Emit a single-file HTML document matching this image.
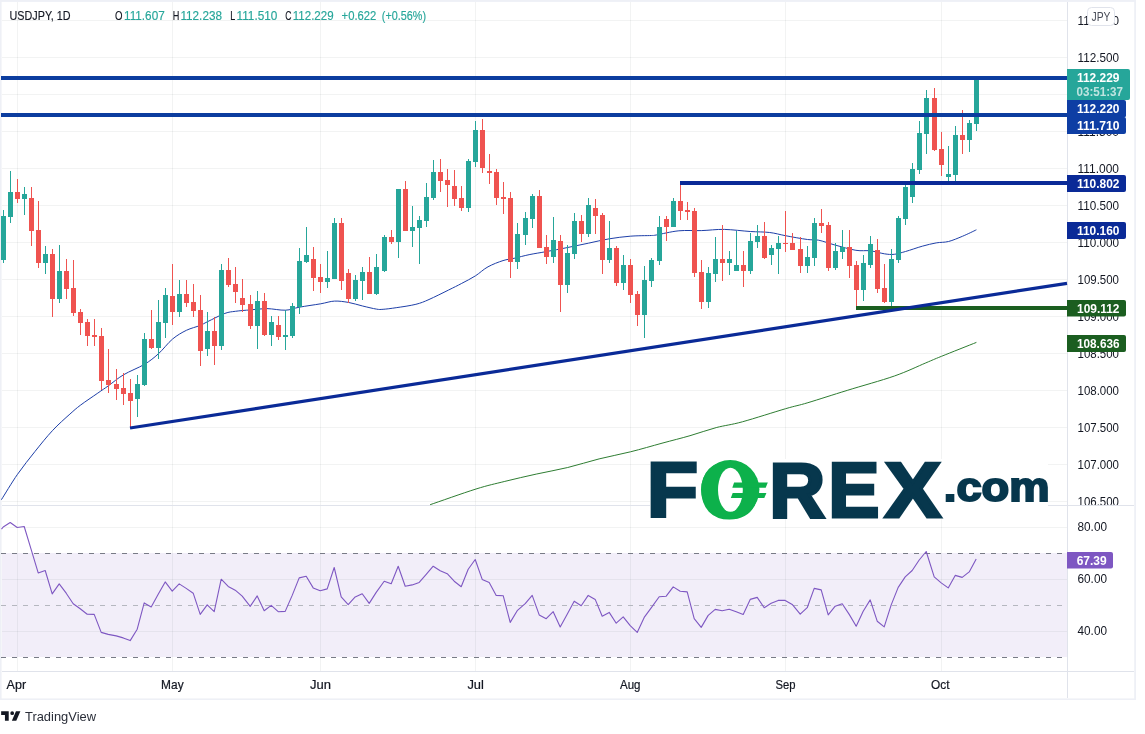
<!DOCTYPE html><html><head><meta charset="utf-8"><title>USDJPY 1D</title>
<style>html,body{margin:0;padding:0;background:#fff}svg{display:block}text{font-family:"Liberation Sans",sans-serif}</style></head><body>
<svg width="1145" height="734" viewBox="0 0 1145 734">
<rect x="0" y="0" width="1145" height="734" fill="#fff"/>
<rect x="0" y="0" width="1136" height="700" fill="#eef0f6"/>
<rect x="1.6" y="1.9" width="1132.6" height="696.5" fill="#fff"/>
<g shape-rendering="crispEdges">
<rect x="2" y="553" width="1065" height="104" fill="#f2eef9"/>
<line x1="2" x2="1067" y1="20.5" y2="20.5" stroke="rgb(42,46,57)" stroke-opacity="0.06" stroke-width="1"/>
<line x1="2" x2="1067" y1="57.5" y2="57.5" stroke="rgb(42,46,57)" stroke-opacity="0.06" stroke-width="1"/>
<line x1="2" x2="1067" y1="94.5" y2="94.5" stroke="rgb(42,46,57)" stroke-opacity="0.06" stroke-width="1"/>
<line x1="2" x2="1067" y1="131.5" y2="131.5" stroke="rgb(42,46,57)" stroke-opacity="0.06" stroke-width="1"/>
<line x1="2" x2="1067" y1="168.5" y2="168.5" stroke="rgb(42,46,57)" stroke-opacity="0.06" stroke-width="1"/>
<line x1="2" x2="1067" y1="205.5" y2="205.5" stroke="rgb(42,46,57)" stroke-opacity="0.06" stroke-width="1"/>
<line x1="2" x2="1067" y1="242.5" y2="242.5" stroke="rgb(42,46,57)" stroke-opacity="0.06" stroke-width="1"/>
<line x1="2" x2="1067" y1="279.5" y2="279.5" stroke="rgb(42,46,57)" stroke-opacity="0.06" stroke-width="1"/>
<line x1="2" x2="1067" y1="316.5" y2="316.5" stroke="rgb(42,46,57)" stroke-opacity="0.06" stroke-width="1"/>
<line x1="2" x2="1067" y1="353.5" y2="353.5" stroke="rgb(42,46,57)" stroke-opacity="0.06" stroke-width="1"/>
<line x1="2" x2="1067" y1="390.5" y2="390.5" stroke="rgb(42,46,57)" stroke-opacity="0.06" stroke-width="1"/>
<line x1="2" x2="1067" y1="427.5" y2="427.5" stroke="rgb(42,46,57)" stroke-opacity="0.06" stroke-width="1"/>
<line x1="2" x2="1067" y1="464.5" y2="464.5" stroke="rgb(42,46,57)" stroke-opacity="0.06" stroke-width="1"/>
<line x1="2" x2="1067" y1="501.5" y2="501.5" stroke="rgb(42,46,57)" stroke-opacity="0.06" stroke-width="1"/>
<line x1="2" x2="1067" y1="527.5" y2="527.5" stroke="rgb(42,46,57)" stroke-opacity="0.06" stroke-width="1"/>
<line x1="2" x2="1067" y1="579.5" y2="579.5" stroke="rgb(42,46,57)" stroke-opacity="0.06" stroke-width="1"/>
<line x1="2" x2="1067" y1="631.5" y2="631.5" stroke="rgb(42,46,57)" stroke-opacity="0.06" stroke-width="1"/>
<line x1="17.5" x2="17.5" y1="2" y2="553" stroke="rgb(42,46,57)" stroke-opacity="0.06" stroke-width="1"/>
<line x1="17.5" x2="17.5" y1="553" y2="657" stroke="rgb(42,46,57)" stroke-opacity="0.06" stroke-width="1"/>
<line x1="17.5" x2="17.5" y1="657" y2="671" stroke="rgb(42,46,57)" stroke-opacity="0.06" stroke-width="1"/>
<line x1="172.5" x2="172.5" y1="2" y2="553" stroke="rgb(42,46,57)" stroke-opacity="0.06" stroke-width="1"/>
<line x1="172.5" x2="172.5" y1="553" y2="657" stroke="rgb(42,46,57)" stroke-opacity="0.06" stroke-width="1"/>
<line x1="172.5" x2="172.5" y1="657" y2="671" stroke="rgb(42,46,57)" stroke-opacity="0.06" stroke-width="1"/>
<line x1="320.5" x2="320.5" y1="2" y2="553" stroke="rgb(42,46,57)" stroke-opacity="0.06" stroke-width="1"/>
<line x1="320.5" x2="320.5" y1="553" y2="657" stroke="rgb(42,46,57)" stroke-opacity="0.06" stroke-width="1"/>
<line x1="320.5" x2="320.5" y1="657" y2="671" stroke="rgb(42,46,57)" stroke-opacity="0.06" stroke-width="1"/>
<line x1="475.5" x2="475.5" y1="2" y2="553" stroke="rgb(42,46,57)" stroke-opacity="0.06" stroke-width="1"/>
<line x1="475.5" x2="475.5" y1="553" y2="657" stroke="rgb(42,46,57)" stroke-opacity="0.06" stroke-width="1"/>
<line x1="475.5" x2="475.5" y1="657" y2="671" stroke="rgb(42,46,57)" stroke-opacity="0.06" stroke-width="1"/>
<line x1="630.5" x2="630.5" y1="2" y2="553" stroke="rgb(42,46,57)" stroke-opacity="0.06" stroke-width="1"/>
<line x1="630.5" x2="630.5" y1="553" y2="657" stroke="rgb(42,46,57)" stroke-opacity="0.06" stroke-width="1"/>
<line x1="630.5" x2="630.5" y1="657" y2="671" stroke="rgb(42,46,57)" stroke-opacity="0.06" stroke-width="1"/>
<line x1="785.5" x2="785.5" y1="2" y2="553" stroke="rgb(42,46,57)" stroke-opacity="0.06" stroke-width="1"/>
<line x1="785.5" x2="785.5" y1="553" y2="657" stroke="rgb(42,46,57)" stroke-opacity="0.06" stroke-width="1"/>
<line x1="785.5" x2="785.5" y1="657" y2="671" stroke="rgb(42,46,57)" stroke-opacity="0.06" stroke-width="1"/>
<line x1="941.5" x2="941.5" y1="2" y2="553" stroke="rgb(42,46,57)" stroke-opacity="0.06" stroke-width="1"/>
<line x1="941.5" x2="941.5" y1="553" y2="657" stroke="rgb(42,46,57)" stroke-opacity="0.06" stroke-width="1"/>
<line x1="941.5" x2="941.5" y1="657" y2="671" stroke="rgb(42,46,57)" stroke-opacity="0.06" stroke-width="1"/>
<line x1="2" x2="1134" y1="505.5" y2="505.5" stroke="#e0e3eb" stroke-width="1"/>
<line x1="2" x2="1134" y1="671.5" y2="671.5" stroke="#e0e3eb" stroke-width="1"/>
<line x1="1067.5" x2="1067.5" y1="2" y2="698" stroke="#e0e3eb" stroke-width="1"/>
</g>
<line x1="1" x2="1067" y1="553.5" y2="553.5" stroke="#787b86" stroke-width="1" stroke-dasharray="5 6" shape-rendering="crispEdges"/>
<line x1="1" x2="1067" y1="605.5" y2="605.5" stroke="#b5b7bf" stroke-width="1" stroke-dasharray="5 6" shape-rendering="crispEdges"/>
<line x1="1" x2="1067" y1="657.5" y2="657.5" stroke="#787b86" stroke-width="1" stroke-dasharray="5 6" shape-rendering="crispEdges"/>
<polyline points="1.5,529.2 3.2,527.0 10.2,522.5 17.2,527.5 24.2,526.5 31.2,549.7 38.2,572.9 45.2,570.5 52.2,593.9 59.2,583.9 66.2,593.2 73.2,603.7 80.2,608.7 87.2,614.2 94.2,614.4 101.2,632.4 108.2,634.4 116.2,635.9 123.2,637.9 130.2,640.6 137.2,629.2 144.2,602.9 151.2,606.9 158.2,594.2 165.2,581.9 172.2,591.2 179.2,583.9 186.2,588.4 193.2,593.2 200.2,614.4 207.2,604.9 214.2,611.7 221.2,579.2 228.2,586.4 235.2,590.2 242.2,596.2 250.2,606.4 257.2,595.9 264.2,610.7 271.2,605.4 278.2,611.7 285.2,611.4 292.2,595.4 299.2,577.9 306.2,576.2 313.2,587.9 320.2,590.7 327.2,588.9 334.2,567.5 341.2,596.9 348.2,604.7 355.2,596.9 362.2,593.7 369.2,603.4 376.2,592.4 384.2,581.2 391.2,583.7 398.2,566.2 405.2,586.2 412.2,584.9 419.2,582.4 426.2,574.4 433.2,566.2 440.2,570.7 447.2,573.7 454.2,581.2 461.2,586.7 468.2,569.2 475.2,559.5 482.2,579.4 489.2,582.4 496.2,595.4 503.2,595.7 510.2,622.4 517.2,610.7 525.2,603.7 532.2,595.4 539.2,614.9 546.2,618.7 553.2,611.7 560.2,626.9 567.2,614.2 574.2,601.2 581.2,605.7 588.2,595.4 595.2,599.4 602.2,616.2 609.2,612.4 616.2,623.2 623.2,616.9 630.2,625.7 637.2,632.4 644.2,617.4 651.2,607.9 659.2,596.7 666.2,596.2 673.2,586.9 680.2,591.2 687.2,591.9 694.2,618.7 701.2,627.4 708.2,615.4 715.2,609.4 722.2,610.7 729.2,609.2 736.2,611.7 743.2,614.4 750.2,599.4 757.2,597.4 764.2,607.7 771.2,603.2 778.2,600.4 785.2,600.4 792.2,604.4 800.2,614.2 807.2,607.7 814.2,588.4 821.2,589.9 828.2,614.9 835.2,606.2 842.2,603.7 849.2,614.4 856.2,626.2 863.2,611.2 870.2,599.9 877.2,621.2 884.2,626.9 891.2,604.9 898.2,587.4 905.2,576.9 912.2,570.5 919.2,560.0 926.2,551.5 934.2,576.9 941.2,582.9 948.2,587.9 955.2,575.4 962.2,577.4 969.2,571.9 976.2,559.0" fill="none" stroke="#7e57c2" stroke-width="1.1" stroke-linejoin="round"/>
<path d="M430.1 504.7C437.8 502.1 463.6 492.9 476.0 489.0C488.4 485.1 494.8 483.9 504.8 481.4C514.8 478.9 525.7 476.4 536.2 474.1C546.7 471.8 557.2 470.0 567.7 467.5C578.2 465.0 588.6 461.5 599.1 458.9C609.6 456.3 620.0 454.4 630.5 451.8C641.0 449.2 652.1 445.9 662.0 443.2C671.9 440.5 681.0 438.3 690.0 435.7C699.0 433.1 707.5 429.9 716.2 427.6C724.9 425.3 730.8 425.0 742.4 421.8C754.0 418.6 774.7 411.9 785.6 408.7C796.5 405.5 797.6 405.8 807.9 402.7C818.2 399.6 832.8 394.8 847.2 390.4C861.6 385.9 881.3 380.6 894.4 376.0C907.5 371.4 917.9 366.2 925.8 362.9C933.6 359.6 933.1 359.7 941.5 356.3C949.9 352.9 970.6 344.7 976.4 342.4" fill="none" stroke="#2e7d32" stroke-width="1"/>
<path d="M1.4 499.7C4.1 495.5 11.9 482.3 17.5 474.3C23.1 466.3 29.1 458.9 34.9 451.6C40.7 444.3 46.6 436.9 52.4 430.7C58.2 424.4 65.2 418.3 69.9 414.1C74.6 409.9 75.7 408.8 80.3 405.3C84.9 401.8 93.1 396.4 97.8 393.1C102.5 389.8 104.2 388.8 108.5 385.7C112.8 382.6 117.5 378.4 123.5 374.8C129.5 371.2 138.7 367.8 144.5 364.3C150.3 360.8 153.7 358.0 158.4 353.8C163.1 349.6 167.9 342.9 172.6 339.0C177.3 335.1 181.8 332.6 186.4 330.3C191.0 328.1 196.5 326.9 200.0 325.5C203.5 324.1 203.3 323.7 207.5 321.7C211.7 319.7 220.2 315.1 224.9 313.4C229.6 311.7 231.2 311.9 235.4 311.3C239.7 310.7 245.2 310.3 250.4 309.9C255.7 309.4 261.1 308.6 266.9 308.6C272.7 308.7 280.0 310.4 285.4 310.2C290.8 310.0 293.4 308.3 299.3 307.2C305.2 306.1 314.8 304.8 320.7 303.8C326.6 302.8 329.9 301.3 334.5 301.1C339.1 300.9 343.7 301.6 348.4 302.4C353.1 303.2 357.9 304.9 362.6 306.0C367.3 307.1 373.0 308.6 376.4 309.1C379.8 309.7 379.8 309.5 383.1 309.3C386.4 309.1 390.7 308.5 396.2 307.7C401.7 306.9 410.4 305.7 415.9 304.3C421.4 302.9 423.6 301.9 429.0 299.5C434.4 297.1 443.2 292.7 448.6 290.0C454.1 287.3 457.2 285.8 461.7 283.4C466.2 281.0 471.1 278.6 475.5 275.8C479.9 273.0 483.4 269.3 488.0 266.8C492.6 264.3 498.6 262.0 503.0 260.6C507.4 259.2 509.6 259.3 514.1 258.3C518.6 257.3 524.5 255.6 529.9 254.5C535.3 253.4 540.1 252.8 546.3 251.6C552.5 250.4 560.2 249.0 567.2 247.6C574.2 246.2 581.4 244.7 588.4 243.2C595.4 241.7 602.3 240.0 609.3 238.8C616.3 237.6 623.3 236.8 630.3 236.2C637.3 235.6 647.1 235.7 651.4 235.5C655.7 235.3 651.6 235.8 656.2 235.0C660.8 234.2 671.4 231.5 678.9 230.8C686.4 230.1 693.7 230.8 701.3 230.6C708.9 230.4 716.1 229.2 724.3 229.4C732.5 229.6 742.7 231.0 750.3 231.5C757.9 232.0 763.8 231.8 769.7 232.5C775.6 233.2 779.2 234.5 785.5 235.7C791.8 236.9 802.0 238.8 807.5 239.5C813.0 240.2 814.0 239.3 818.6 240.2C823.2 241.1 828.7 243.3 834.9 245.0C841.1 246.7 850.0 249.3 855.9 250.3C861.8 251.3 865.6 250.2 870.4 250.8C875.1 251.4 880.4 253.2 884.4 253.8C888.4 254.4 890.8 254.7 894.3 254.3C897.8 253.9 900.8 252.8 905.5 251.5C910.2 250.2 917.2 247.6 922.3 246.2C927.4 244.8 931.8 243.7 936.2 242.9C940.6 242.1 944.1 242.6 948.5 241.5C952.9 240.4 957.8 238.2 962.4 236.3C967.0 234.4 974.1 230.9 976.4 229.8" fill="none" stroke="#1e3fa8" stroke-width="1"/>
<g shape-rendering="crispEdges">
<rect x="3" y="210" width="1" height="53" fill="#26a69a"/>
<rect x="1" y="216" width="5" height="44" fill="#26a69a"/>
<rect x="10" y="171" width="1" height="52" fill="#26a69a"/>
<rect x="8" y="192" width="5" height="25" fill="#26a69a"/>
<rect x="17" y="179" width="1" height="24" fill="#ef5350"/>
<rect x="15" y="192" width="5" height="7" fill="#ef5350"/>
<rect x="24" y="187" width="1" height="28" fill="#26a69a"/>
<rect x="22" y="194" width="5" height="5" fill="#26a69a"/>
<rect x="31" y="187" width="1" height="59" fill="#ef5350"/>
<rect x="29" y="198" width="5" height="33" fill="#ef5350"/>
<rect x="38" y="201" width="1" height="67" fill="#ef5350"/>
<rect x="36" y="230" width="5" height="33" fill="#ef5350"/>
<rect x="45" y="246" width="1" height="28" fill="#26a69a"/>
<rect x="43" y="254" width="5" height="9" fill="#26a69a"/>
<rect x="52" y="249" width="1" height="68" fill="#ef5350"/>
<rect x="50" y="254" width="5" height="45" fill="#ef5350"/>
<rect x="59" y="245" width="1" height="58" fill="#26a69a"/>
<rect x="57" y="271" width="5" height="28" fill="#26a69a"/>
<rect x="66" y="259" width="1" height="40" fill="#ef5350"/>
<rect x="64" y="271" width="5" height="18" fill="#ef5350"/>
<rect x="73" y="260" width="1" height="56" fill="#ef5350"/>
<rect x="71" y="288" width="5" height="25" fill="#ef5350"/>
<rect x="80" y="309" width="1" height="26" fill="#ef5350"/>
<rect x="78" y="312" width="5" height="11" fill="#ef5350"/>
<rect x="87" y="319" width="1" height="27" fill="#ef5350"/>
<rect x="85" y="322" width="5" height="14" fill="#ef5350"/>
<rect x="94" y="319" width="1" height="27" fill="#ef5350"/>
<rect x="92" y="335" width="5" height="2" fill="#ef5350"/>
<rect x="101" y="328" width="1" height="62" fill="#ef5350"/>
<rect x="99" y="336" width="5" height="45" fill="#ef5350"/>
<rect x="108" y="349" width="1" height="44" fill="#ef5350"/>
<rect x="106" y="380" width="5" height="5" fill="#ef5350"/>
<rect x="116" y="369" width="1" height="31" fill="#ef5350"/>
<rect x="114" y="384" width="5" height="5" fill="#ef5350"/>
<rect x="123" y="373" width="1" height="32" fill="#ef5350"/>
<rect x="121" y="388" width="5" height="6" fill="#ef5350"/>
<rect x="130" y="379" width="1" height="49" fill="#ef5350"/>
<rect x="128" y="393" width="5" height="8" fill="#ef5350"/>
<rect x="137" y="375" width="1" height="42" fill="#26a69a"/>
<rect x="135" y="384" width="5" height="15" fill="#26a69a"/>
<rect x="144" y="333" width="1" height="53" fill="#26a69a"/>
<rect x="142" y="339" width="5" height="46" fill="#26a69a"/>
<rect x="151" y="310" width="1" height="39" fill="#ef5350"/>
<rect x="149" y="339" width="5" height="9" fill="#ef5350"/>
<rect x="158" y="300" width="1" height="59" fill="#26a69a"/>
<rect x="156" y="322" width="5" height="26" fill="#26a69a"/>
<rect x="165" y="288" width="1" height="50" fill="#26a69a"/>
<rect x="163" y="295" width="5" height="28" fill="#26a69a"/>
<rect x="172" y="264" width="1" height="61" fill="#ef5350"/>
<rect x="170" y="296" width="5" height="16" fill="#ef5350"/>
<rect x="179" y="280" width="1" height="37" fill="#26a69a"/>
<rect x="177" y="294" width="5" height="18" fill="#26a69a"/>
<rect x="186" y="280" width="1" height="27" fill="#ef5350"/>
<rect x="184" y="294" width="5" height="9" fill="#ef5350"/>
<rect x="193" y="284" width="1" height="33" fill="#ef5350"/>
<rect x="191" y="302" width="5" height="9" fill="#ef5350"/>
<rect x="200" y="295" width="1" height="71" fill="#ef5350"/>
<rect x="198" y="310" width="5" height="41" fill="#ef5350"/>
<rect x="207" y="312" width="1" height="44" fill="#26a69a"/>
<rect x="205" y="331" width="5" height="18" fill="#26a69a"/>
<rect x="214" y="317" width="1" height="48" fill="#ef5350"/>
<rect x="212" y="331" width="5" height="15" fill="#ef5350"/>
<rect x="221" y="264" width="1" height="86" fill="#26a69a"/>
<rect x="219" y="270" width="5" height="76" fill="#26a69a"/>
<rect x="228" y="258" width="1" height="29" fill="#ef5350"/>
<rect x="226" y="270" width="5" height="15" fill="#ef5350"/>
<rect x="235" y="267" width="1" height="36" fill="#ef5350"/>
<rect x="233" y="284" width="5" height="8" fill="#ef5350"/>
<rect x="242" y="279" width="1" height="33" fill="#ef5350"/>
<rect x="240" y="298" width="5" height="7" fill="#ef5350"/>
<rect x="250" y="295" width="1" height="34" fill="#ef5350"/>
<rect x="248" y="304" width="5" height="22" fill="#ef5350"/>
<rect x="257" y="291" width="1" height="58" fill="#26a69a"/>
<rect x="255" y="301" width="5" height="25" fill="#26a69a"/>
<rect x="264" y="293" width="1" height="43" fill="#ef5350"/>
<rect x="262" y="301" width="5" height="34" fill="#ef5350"/>
<rect x="271" y="316" width="1" height="30" fill="#26a69a"/>
<rect x="269" y="322" width="5" height="13" fill="#26a69a"/>
<rect x="278" y="316" width="1" height="24" fill="#ef5350"/>
<rect x="276" y="325" width="5" height="12" fill="#ef5350"/>
<rect x="285" y="310" width="1" height="40" fill="#26a69a"/>
<rect x="283" y="335" width="5" height="2" fill="#26a69a"/>
<rect x="292" y="303" width="1" height="35" fill="#26a69a"/>
<rect x="290" y="306" width="5" height="30" fill="#26a69a"/>
<rect x="299" y="248" width="1" height="66" fill="#26a69a"/>
<rect x="297" y="261" width="5" height="46" fill="#26a69a"/>
<rect x="306" y="227" width="1" height="36" fill="#26a69a"/>
<rect x="304" y="255" width="5" height="7" fill="#26a69a"/>
<rect x="313" y="247" width="1" height="44" fill="#ef5350"/>
<rect x="311" y="259" width="5" height="19" fill="#ef5350"/>
<rect x="320" y="264" width="1" height="29" fill="#ef5350"/>
<rect x="318" y="277" width="5" height="5" fill="#ef5350"/>
<rect x="327" y="251" width="1" height="37" fill="#26a69a"/>
<rect x="325" y="278" width="5" height="4" fill="#26a69a"/>
<rect x="334" y="218" width="1" height="61" fill="#26a69a"/>
<rect x="332" y="223" width="5" height="56" fill="#26a69a"/>
<rect x="341" y="218" width="1" height="72" fill="#ef5350"/>
<rect x="339" y="223" width="5" height="58" fill="#ef5350"/>
<rect x="348" y="269" width="1" height="34" fill="#ef5350"/>
<rect x="346" y="273" width="5" height="26" fill="#ef5350"/>
<rect x="355" y="275" width="1" height="26" fill="#26a69a"/>
<rect x="353" y="280" width="5" height="19" fill="#26a69a"/>
<rect x="362" y="267" width="1" height="33" fill="#26a69a"/>
<rect x="360" y="272" width="5" height="9" fill="#26a69a"/>
<rect x="369" y="257" width="1" height="37" fill="#ef5350"/>
<rect x="367" y="272" width="5" height="22" fill="#ef5350"/>
<rect x="376" y="254" width="1" height="41" fill="#26a69a"/>
<rect x="374" y="267" width="5" height="27" fill="#26a69a"/>
<rect x="384" y="235" width="1" height="37" fill="#26a69a"/>
<rect x="382" y="237" width="5" height="34" fill="#26a69a"/>
<rect x="391" y="230" width="1" height="14" fill="#ef5350"/>
<rect x="389" y="237" width="5" height="5" fill="#ef5350"/>
<rect x="398" y="189" width="1" height="69" fill="#26a69a"/>
<rect x="396" y="189" width="5" height="53" fill="#26a69a"/>
<rect x="405" y="181" width="1" height="50" fill="#ef5350"/>
<rect x="403" y="189" width="5" height="42" fill="#ef5350"/>
<rect x="412" y="206" width="1" height="41" fill="#26a69a"/>
<rect x="410" y="227" width="5" height="4" fill="#26a69a"/>
<rect x="419" y="216" width="1" height="48" fill="#26a69a"/>
<rect x="417" y="220" width="5" height="8" fill="#26a69a"/>
<rect x="426" y="183" width="1" height="44" fill="#26a69a"/>
<rect x="424" y="197" width="5" height="24" fill="#26a69a"/>
<rect x="433" y="160" width="1" height="40" fill="#26a69a"/>
<rect x="431" y="172" width="5" height="26" fill="#26a69a"/>
<rect x="440" y="159" width="1" height="33" fill="#ef5350"/>
<rect x="438" y="172" width="5" height="9" fill="#ef5350"/>
<rect x="447" y="169" width="1" height="38" fill="#ef5350"/>
<rect x="445" y="180" width="5" height="5" fill="#ef5350"/>
<rect x="454" y="170" width="1" height="36" fill="#ef5350"/>
<rect x="452" y="186" width="5" height="13" fill="#ef5350"/>
<rect x="461" y="186" width="1" height="25" fill="#ef5350"/>
<rect x="459" y="198" width="5" height="10" fill="#ef5350"/>
<rect x="468" y="159" width="1" height="53" fill="#26a69a"/>
<rect x="466" y="161" width="5" height="47" fill="#26a69a"/>
<rect x="475" y="121" width="1" height="46" fill="#26a69a"/>
<rect x="473" y="130" width="5" height="32" fill="#26a69a"/>
<rect x="482" y="119" width="1" height="54" fill="#ef5350"/>
<rect x="480" y="130" width="5" height="38" fill="#ef5350"/>
<rect x="489" y="154" width="1" height="30" fill="#ef5350"/>
<rect x="487" y="171" width="5" height="2" fill="#ef5350"/>
<rect x="496" y="169" width="1" height="36" fill="#ef5350"/>
<rect x="494" y="172" width="5" height="26" fill="#ef5350"/>
<rect x="503" y="182" width="1" height="32" fill="#ef5350"/>
<rect x="501" y="197" width="5" height="2" fill="#ef5350"/>
<rect x="510" y="192" width="1" height="86" fill="#ef5350"/>
<rect x="508" y="198" width="5" height="64" fill="#ef5350"/>
<rect x="517" y="223" width="1" height="46" fill="#26a69a"/>
<rect x="515" y="234" width="5" height="28" fill="#26a69a"/>
<rect x="525" y="212" width="1" height="33" fill="#26a69a"/>
<rect x="523" y="218" width="5" height="17" fill="#26a69a"/>
<rect x="532" y="194" width="1" height="34" fill="#26a69a"/>
<rect x="530" y="196" width="5" height="23" fill="#26a69a"/>
<rect x="539" y="190" width="1" height="58" fill="#ef5350"/>
<rect x="537" y="196" width="5" height="52" fill="#ef5350"/>
<rect x="546" y="235" width="1" height="29" fill="#ef5350"/>
<rect x="544" y="247" width="5" height="10" fill="#ef5350"/>
<rect x="553" y="217" width="1" height="46" fill="#26a69a"/>
<rect x="551" y="240" width="5" height="17" fill="#26a69a"/>
<rect x="560" y="235" width="1" height="77" fill="#ef5350"/>
<rect x="558" y="241" width="5" height="44" fill="#ef5350"/>
<rect x="567" y="245" width="1" height="48" fill="#26a69a"/>
<rect x="565" y="253" width="5" height="32" fill="#26a69a"/>
<rect x="574" y="213" width="1" height="46" fill="#26a69a"/>
<rect x="572" y="221" width="5" height="33" fill="#26a69a"/>
<rect x="581" y="215" width="1" height="27" fill="#ef5350"/>
<rect x="579" y="221" width="5" height="13" fill="#ef5350"/>
<rect x="588" y="198" width="1" height="39" fill="#26a69a"/>
<rect x="586" y="205" width="5" height="29" fill="#26a69a"/>
<rect x="595" y="199" width="1" height="35" fill="#ef5350"/>
<rect x="593" y="208" width="5" height="8" fill="#ef5350"/>
<rect x="602" y="213" width="1" height="61" fill="#ef5350"/>
<rect x="600" y="215" width="5" height="45" fill="#ef5350"/>
<rect x="609" y="221" width="1" height="42" fill="#26a69a"/>
<rect x="607" y="248" width="5" height="12" fill="#26a69a"/>
<rect x="616" y="246" width="1" height="40" fill="#ef5350"/>
<rect x="614" y="248" width="5" height="35" fill="#ef5350"/>
<rect x="623" y="255" width="1" height="35" fill="#26a69a"/>
<rect x="621" y="265" width="5" height="18" fill="#26a69a"/>
<rect x="630" y="259" width="1" height="44" fill="#ef5350"/>
<rect x="628" y="265" width="5" height="30" fill="#ef5350"/>
<rect x="637" y="291" width="1" height="35" fill="#ef5350"/>
<rect x="635" y="294" width="5" height="21" fill="#ef5350"/>
<rect x="644" y="266" width="1" height="72" fill="#26a69a"/>
<rect x="642" y="280" width="5" height="35" fill="#26a69a"/>
<rect x="651" y="258" width="1" height="29" fill="#26a69a"/>
<rect x="649" y="260" width="5" height="21" fill="#26a69a"/>
<rect x="659" y="216" width="1" height="49" fill="#26a69a"/>
<rect x="657" y="227" width="5" height="34" fill="#26a69a"/>
<rect x="666" y="216" width="1" height="25" fill="#ef5350"/>
<rect x="664" y="219" width="5" height="8" fill="#ef5350"/>
<rect x="673" y="198" width="1" height="29" fill="#26a69a"/>
<rect x="671" y="201" width="5" height="26" fill="#26a69a"/>
<rect x="680" y="185" width="1" height="35" fill="#ef5350"/>
<rect x="678" y="201" width="5" height="10" fill="#ef5350"/>
<rect x="687" y="202" width="1" height="18" fill="#ef5350"/>
<rect x="685" y="210" width="5" height="2" fill="#ef5350"/>
<rect x="694" y="208" width="1" height="69" fill="#ef5350"/>
<rect x="692" y="211" width="5" height="62" fill="#ef5350"/>
<rect x="701" y="260" width="1" height="49" fill="#ef5350"/>
<rect x="699" y="272" width="5" height="30" fill="#ef5350"/>
<rect x="708" y="267" width="1" height="41" fill="#26a69a"/>
<rect x="706" y="273" width="5" height="29" fill="#26a69a"/>
<rect x="715" y="237" width="1" height="45" fill="#26a69a"/>
<rect x="713" y="259" width="5" height="15" fill="#26a69a"/>
<rect x="722" y="225" width="1" height="56" fill="#ef5350"/>
<rect x="720" y="259" width="5" height="4" fill="#ef5350"/>
<rect x="729" y="251" width="1" height="24" fill="#26a69a"/>
<rect x="727" y="259" width="5" height="4" fill="#26a69a"/>
<rect x="736" y="231" width="1" height="40" fill="#26a69a"/>
<rect x="734" y="265" width="5" height="6" fill="#26a69a"/>
<rect x="743" y="251" width="1" height="36" fill="#ef5350"/>
<rect x="741" y="265" width="5" height="6" fill="#ef5350"/>
<rect x="750" y="233" width="1" height="41" fill="#26a69a"/>
<rect x="748" y="241" width="5" height="30" fill="#26a69a"/>
<rect x="757" y="225" width="1" height="23" fill="#26a69a"/>
<rect x="755" y="236" width="5" height="6" fill="#26a69a"/>
<rect x="764" y="222" width="1" height="37" fill="#ef5350"/>
<rect x="762" y="236" width="5" height="22" fill="#ef5350"/>
<rect x="771" y="245" width="1" height="20" fill="#26a69a"/>
<rect x="769" y="248" width="5" height="7" fill="#26a69a"/>
<rect x="778" y="236" width="1" height="38" fill="#26a69a"/>
<rect x="776" y="243" width="5" height="6" fill="#26a69a"/>
<rect x="785" y="211" width="1" height="41" fill="#ef5350"/>
<rect x="783" y="243" width="5" height="1" fill="#ef5350"/>
<rect x="792" y="233" width="1" height="17" fill="#ef5350"/>
<rect x="790" y="243" width="5" height="7" fill="#ef5350"/>
<rect x="800" y="237" width="1" height="36" fill="#ef5350"/>
<rect x="798" y="249" width="5" height="17" fill="#ef5350"/>
<rect x="807" y="246" width="1" height="27" fill="#26a69a"/>
<rect x="805" y="257" width="5" height="9" fill="#26a69a"/>
<rect x="814" y="218" width="1" height="48" fill="#26a69a"/>
<rect x="812" y="223" width="5" height="35" fill="#26a69a"/>
<rect x="821" y="209" width="1" height="24" fill="#ef5350"/>
<rect x="819" y="223" width="5" height="3" fill="#ef5350"/>
<rect x="828" y="222" width="1" height="49" fill="#ef5350"/>
<rect x="826" y="225" width="5" height="43" fill="#ef5350"/>
<rect x="835" y="243" width="1" height="27" fill="#26a69a"/>
<rect x="833" y="251" width="5" height="17" fill="#26a69a"/>
<rect x="842" y="230" width="1" height="29" fill="#26a69a"/>
<rect x="840" y="247" width="5" height="5" fill="#26a69a"/>
<rect x="849" y="230" width="1" height="48" fill="#ef5350"/>
<rect x="847" y="247" width="5" height="19" fill="#ef5350"/>
<rect x="856" y="261" width="1" height="45" fill="#ef5350"/>
<rect x="854" y="265" width="5" height="25" fill="#ef5350"/>
<rect x="863" y="255" width="1" height="46" fill="#26a69a"/>
<rect x="861" y="263" width="5" height="27" fill="#26a69a"/>
<rect x="870" y="236" width="1" height="32" fill="#26a69a"/>
<rect x="868" y="244" width="5" height="21" fill="#26a69a"/>
<rect x="877" y="239" width="1" height="54" fill="#ef5350"/>
<rect x="875" y="250" width="5" height="39" fill="#ef5350"/>
<rect x="884" y="264" width="1" height="39" fill="#ef5350"/>
<rect x="882" y="288" width="5" height="14" fill="#ef5350"/>
<rect x="891" y="249" width="1" height="57" fill="#26a69a"/>
<rect x="889" y="259" width="5" height="43" fill="#26a69a"/>
<rect x="898" y="216" width="1" height="47" fill="#26a69a"/>
<rect x="896" y="218" width="5" height="42" fill="#26a69a"/>
<rect x="905" y="182" width="1" height="43" fill="#26a69a"/>
<rect x="903" y="187" width="5" height="32" fill="#26a69a"/>
<rect x="912" y="163" width="1" height="40" fill="#26a69a"/>
<rect x="910" y="169" width="5" height="28" fill="#26a69a"/>
<rect x="919" y="121" width="1" height="53" fill="#26a69a"/>
<rect x="917" y="133" width="5" height="37" fill="#26a69a"/>
<rect x="926" y="90" width="1" height="64" fill="#26a69a"/>
<rect x="924" y="98" width="5" height="36" fill="#26a69a"/>
<rect x="934" y="88" width="1" height="63" fill="#ef5350"/>
<rect x="932" y="98" width="5" height="52" fill="#ef5350"/>
<rect x="941" y="132" width="1" height="44" fill="#ef5350"/>
<rect x="939" y="149" width="5" height="16" fill="#ef5350"/>
<rect x="948" y="146" width="1" height="36" fill="#26a69a"/>
<rect x="946" y="174" width="5" height="3" fill="#26a69a"/>
<rect x="955" y="126" width="1" height="58" fill="#26a69a"/>
<rect x="953" y="135" width="5" height="40" fill="#26a69a"/>
<rect x="962" y="110" width="1" height="44" fill="#ef5350"/>
<rect x="960" y="135" width="5" height="5" fill="#ef5350"/>
<rect x="969" y="120" width="1" height="32" fill="#26a69a"/>
<rect x="967" y="123" width="5" height="17" fill="#26a69a"/>
<rect x="976" y="77" width="1" height="54" fill="#26a69a"/>
<rect x="974" y="77" width="5" height="47" fill="#26a69a"/>
</g>
<rect x="1" y="76" width="1066" height="4" fill="#0c3d9f"/>
<rect x="1" y="113" width="1066" height="4" fill="#0c3d9f"/>
<rect x="680" y="181" width="387" height="4" fill="#0a2a97"/>
<rect x="856" y="306" width="211" height="4" fill="#1b5e20"/>
<line x1="130" y1="428" x2="1067" y2="283.3" stroke="#0a2a97" stroke-width="3.2"/>
<rect x="650" y="459" width="398" height="60" fill="#fff"/>
<text y="516.6" font-size="78" font-weight="bold" stroke-width="3.2" stroke-linejoin="miter"><tspan x="646.72" textLength="51.32" lengthAdjust="spacingAndGlyphs" fill="#07374d" stroke="#07374d">F</tspan><tspan x="699.72" textLength="59.91" lengthAdjust="spacingAndGlyphs" fill="#0db14b" stroke="#0db14b">O</tspan><tspan x="769.27" textLength="56.04" lengthAdjust="spacingAndGlyphs" fill="#07374d" stroke="#07374d">R</tspan><tspan x="828.33" textLength="51.22" lengthAdjust="spacingAndGlyphs" fill="#07374d" stroke="#07374d">E</tspan><tspan x="884.86" textLength="56.28" lengthAdjust="spacingAndGlyphs" fill="#07374d" stroke="#07374d">X</tspan><tspan x="943.83" y="501.3" font-size="40.5" stroke-width="2" textLength="105.77" lengthAdjust="spacingAndGlyphs" fill="#07374d" stroke="#07374d">.com</tspan></text>
<ellipse cx="730.2" cy="489.45" rx="29.2" ry="29.45" fill="#0db14b"/>
<ellipse cx="730.4" cy="489.8" rx="12.4" ry="22" fill="#fff"/>
<path d="M734.1 482.6H767.8L765.7 487.8H732.3Z" fill="#0db14b"/>
<path d="M732.7 492.9H766.4L764.3 498.1H730.8Z" fill="#0db14b"/>
<text x="1077.5" y="25.0" font-size="12.4" fill="#131722" textLength="41.5" lengthAdjust="spacingAndGlyphs">113.000</text>
<text x="1077.5" y="62.0" font-size="12.4" fill="#131722" textLength="41.5" lengthAdjust="spacingAndGlyphs">112.500</text>
<text x="1077.5" y="99.0" font-size="12.4" fill="#131722" textLength="41.5" lengthAdjust="spacingAndGlyphs">112.000</text>
<text x="1077.5" y="136.0" font-size="12.4" fill="#131722" textLength="41.5" lengthAdjust="spacingAndGlyphs">111.500</text>
<text x="1077.5" y="173.0" font-size="12.4" fill="#131722" textLength="41.5" lengthAdjust="spacingAndGlyphs">111.000</text>
<text x="1077.5" y="210.0" font-size="12.4" fill="#131722" textLength="41.5" lengthAdjust="spacingAndGlyphs">110.500</text>
<text x="1077.5" y="247.0" font-size="12.4" fill="#131722" textLength="41.5" lengthAdjust="spacingAndGlyphs">110.000</text>
<text x="1077.5" y="284.0" font-size="12.4" fill="#131722" textLength="41.5" lengthAdjust="spacingAndGlyphs">109.500</text>
<text x="1077.5" y="321.0" font-size="12.4" fill="#131722" textLength="41.5" lengthAdjust="spacingAndGlyphs">109.000</text>
<text x="1077.5" y="358.0" font-size="12.4" fill="#131722" textLength="41.5" lengthAdjust="spacingAndGlyphs">108.500</text>
<text x="1077.5" y="395.0" font-size="12.4" fill="#131722" textLength="41.5" lengthAdjust="spacingAndGlyphs">108.000</text>
<text x="1077.5" y="432.0" font-size="12.4" fill="#131722" textLength="41.5" lengthAdjust="spacingAndGlyphs">107.500</text>
<text x="1077.5" y="469.0" font-size="12.4" fill="#131722" textLength="41.5" lengthAdjust="spacingAndGlyphs">107.000</text>
<clipPath id="c1"><rect x="1068" y="480" width="66" height="25"/></clipPath><g clip-path="url(#c1)">
<text x="1077.5" y="506.0" font-size="12.4" fill="#131722" textLength="41.5" lengthAdjust="spacingAndGlyphs">106.500</text>
</g>
<text x="1077.5" y="531.3" font-size="12.4" fill="#131722" textLength="29.5" lengthAdjust="spacingAndGlyphs">80.00</text>
<text x="1077.5" y="583.3" font-size="12.4" fill="#131722" textLength="29.5" lengthAdjust="spacingAndGlyphs">60.00</text>
<text x="1077.5" y="635.2" font-size="12.4" fill="#131722" textLength="29.5" lengthAdjust="spacingAndGlyphs">40.00</text>
<path d="M1067 69H1128a2 2 0 0 1 2 2V98a2 2 0 0 1 -2 2H1067Z" fill="#26a69a"/>
<text x="1077" y="82.3" font-size="12.4" fill="#fff" font-weight="bold" textLength="42.5" lengthAdjust="spacingAndGlyphs">112.229</text>
<text x="1076.5" y="95.9" font-size="12.4" fill="#bfe4e0" font-weight="bold" textLength="46.5" lengthAdjust="spacingAndGlyphs">03:51:37</text>
<path d="M1067 100H1124a2 2 0 0 1 2 2V115.5a2 2 0 0 1 -2 2H1067Z" fill="#0e3ea4"/>
<text x="1077" y="113.3" font-size="12.4" fill="#fff" font-weight="bold" textLength="42.5" lengthAdjust="spacingAndGlyphs">112.220</text>
<path d="M1067 117H1124a2 2 0 0 1 2 2V132a2 2 0 0 1 -2 2H1067Z" fill="#0e3ea4"/>
<text x="1077" y="130.3" font-size="12.4" fill="#fff" font-weight="bold" textLength="42.5" lengthAdjust="spacingAndGlyphs">111.710</text>
<path d="M1067 175H1124a2 2 0 0 1 2 2V190a2 2 0 0 1 -2 2H1067Z" fill="#0a2a97"/>
<text x="1077" y="188.1" font-size="12.4" fill="#fff" font-weight="bold" textLength="42.5" lengthAdjust="spacingAndGlyphs">110.802</text>
<path d="M1067 222H1124a2 2 0 0 1 2 2V237a2 2 0 0 1 -2 2H1067Z" fill="#0a2a97"/>
<text x="1077" y="235.1" font-size="12.4" fill="#fff" font-weight="bold" textLength="42.5" lengthAdjust="spacingAndGlyphs">110.160</text>
<path d="M1067 300H1124a2 2 0 0 1 2 2V314.5a2 2 0 0 1 -2 2H1067Z" fill="#1b5e20"/>
<text x="1077" y="312.7" font-size="12.4" fill="#fff" font-weight="bold" textLength="42.5" lengthAdjust="spacingAndGlyphs">109.112</text>
<path d="M1067 335H1124a2 2 0 0 1 2 2V350a2 2 0 0 1 -2 2H1067Z" fill="#1b5e20"/>
<text x="1077" y="348.0" font-size="12.4" fill="#fff" font-weight="bold" textLength="42.5" lengthAdjust="spacingAndGlyphs">108.636</text>
<path d="M1067 552H1111a2 2 0 0 1 2 2V566.6a2 2 0 0 1 -2 2H1067Z" fill="#7e57c2"/>
<text x="1076.7" y="565.1" font-size="12.4" fill="#fff" font-weight="bold" textLength="30" lengthAdjust="spacingAndGlyphs">67.39</text>
<rect x="1087.5" y="7.5" width="27" height="18" rx="4" fill="#fff" stroke="#e0e3eb" stroke-width="1"/>
<text x="1091.5" y="20.8" font-size="12" fill="#4a4e59" textLength="19" lengthAdjust="spacingAndGlyphs">JPY</text>
<text x="9.5" y="20" font-size="12.5" fill="#131722" stroke="#131722" stroke-width="0.15" textLength="61" lengthAdjust="spacingAndGlyphs">USDJPY, 1D</text>
<text x="115" y="20" font-size="12.5" fill="#131722" stroke="#131722" stroke-width="0.15" textLength="7.5" lengthAdjust="spacingAndGlyphs">O</text>
<text x="124" y="20" font-size="12.5" fill="#26a69a" stroke="#26a69a" stroke-width="0.15" textLength="40.7" lengthAdjust="spacingAndGlyphs">111.607</text>
<text x="172.8" y="20" font-size="12.5" fill="#131722" stroke="#131722" stroke-width="0.15" textLength="6.6" lengthAdjust="spacingAndGlyphs">H</text>
<text x="180.4" y="20" font-size="12.5" fill="#26a69a" stroke="#26a69a" stroke-width="0.15" textLength="41.6" lengthAdjust="spacingAndGlyphs">112.238</text>
<text x="230.2" y="20" font-size="12.5" fill="#131722" stroke="#131722" stroke-width="0.15" textLength="5" lengthAdjust="spacingAndGlyphs">L</text>
<text x="236.5" y="20" font-size="12.5" fill="#26a69a" stroke="#26a69a" stroke-width="0.15" textLength="40.8" lengthAdjust="spacingAndGlyphs">111.510</text>
<text x="285.3" y="20" font-size="12.5" fill="#131722" stroke="#131722" stroke-width="0.15" textLength="6.2" lengthAdjust="spacingAndGlyphs">C</text>
<text x="292.8" y="20" font-size="12.5" fill="#26a69a" stroke="#26a69a" stroke-width="0.15" textLength="40.8" lengthAdjust="spacingAndGlyphs">112.229</text>
<text x="341.6" y="20" font-size="12.5" fill="#26a69a" stroke="#26a69a" stroke-width="0.15" textLength="34.8" lengthAdjust="spacingAndGlyphs">+0.622</text>
<text x="381.8" y="20" font-size="12.5" fill="#26a69a" stroke="#26a69a" stroke-width="0.15" textLength="44.2" lengthAdjust="spacingAndGlyphs">(+0.56%)</text>
<text x="6.6" y="688.8" font-size="12.4" fill="#131722" stroke="#131722" stroke-width="0.2" textLength="19.5" lengthAdjust="spacingAndGlyphs">Apr</text>
<text x="161.1" y="688.8" font-size="12.4" fill="#131722" stroke="#131722" stroke-width="0.2" textLength="22.5" lengthAdjust="spacingAndGlyphs">May</text>
<text x="310.0" y="688.8" font-size="12.4" fill="#131722" stroke="#131722" stroke-width="0.2" textLength="21" lengthAdjust="spacingAndGlyphs">Jun</text>
<text x="467.4" y="688.8" font-size="12.4" fill="#131722" stroke="#131722" stroke-width="0.2" textLength="16.5" lengthAdjust="spacingAndGlyphs">Jul</text>
<text x="620.0" y="688.8" font-size="12.4" fill="#131722" stroke="#131722" stroke-width="0.2" textLength="20.5" lengthAdjust="spacingAndGlyphs">Aug</text>
<text x="775.5" y="688.8" font-size="12.4" fill="#131722" stroke="#131722" stroke-width="0.2" textLength="20" lengthAdjust="spacingAndGlyphs">Sep</text>
<text x="931.0" y="688.8" font-size="12.4" fill="#131722" stroke="#131722" stroke-width="0.2" textLength="18.5" lengthAdjust="spacingAndGlyphs">Oct</text>
<g transform="translate(-0.1,707.5) scale(0.63)" fill="#131722"><path d="M14 6H2v6h6v9h6V6Zm12 15h-7l6.5-15h7L26 21Zm-6.5-9a3 3 0 1 0 0-6 3 3 0 0 0 0 6Z"/></g>
<text x="25" y="720.8" font-size="13" fill="#2a2e39" textLength="71" lengthAdjust="spacingAndGlyphs">TradingView</text>
</svg></body></html>
